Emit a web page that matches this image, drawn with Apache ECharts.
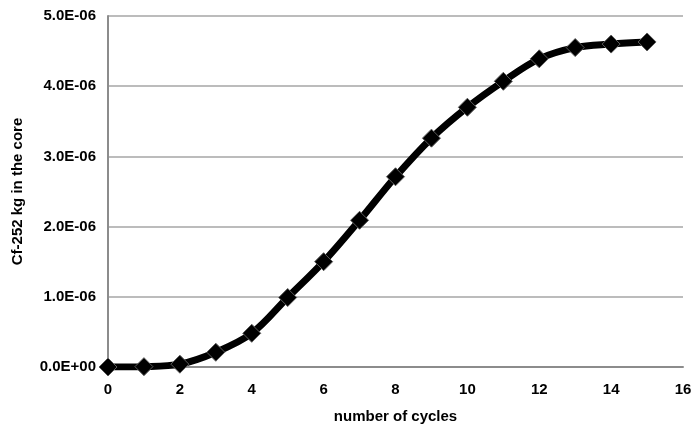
<!DOCTYPE html>
<html>
<head>
<meta charset="utf-8">
<script src="https://cdn.jsdelivr.net/npm/echarts@6/dist/echarts.min.js"></script>
<style>
  html, body { margin: 0; padding: 0; background: #fff; }
  #chart { width: 693px; height: 425px; }
</style>
</head>
<body>
<div id="chart"></div>
<script>
// Cf-252 mass in the core per fuel cycle
const cycles = [0, 1, 2, 3, 4, 5, 6, 7, 8, 9, 10, 11, 12, 13, 14, 15];
const cfMass = [0, 0.005e-6, 0.04e-6, 0.21e-6, 0.48e-6, 0.99e-6, 1.50e-6, 2.09e-6,
                2.71e-6, 3.26e-6, 3.70e-6, 4.07e-6, 4.39e-6, 4.55e-6, 4.60e-6, 4.63e-6];
const xTicks = [0, 2, 4, 6, 8, 10, 12, 14, 16];
const yTicks = [0, 1e-6, 2e-6, 3e-6, 4e-6, 5e-6];

function sci(v) {
  if (Math.abs(v) < 1e-15) return '0.0E+00';
  const exp = Math.floor(Math.log10(Math.abs(v)) + 1e-9);
  const mant = v / Math.pow(10, exp);
  const sign = exp < 0 ? '-' : '+';
  const e = String(Math.abs(exp)).padStart(2, '0');
  return mant.toFixed(1) + 'E' + sign + e;
}

const font = 'Liberation Sans, Arial, sans-serif';
const chart = echarts.init(document.getElementById('chart'), null, { renderer: 'canvas' });
chart.setOption({
  animation: false,
  backgroundColor: '#ffffff',
  grid: { left: 108, right: 10, top: 16, bottom: 58, containLabel: false, outerBoundsMode: 'none' },
  xAxis: {
    type: 'value',
    min: xTicks[0],
    max: xTicks[xTicks.length - 1],
    interval: 2,
    name: 'number of cycles',
    nameLocation: 'middle',
    nameGap: 42,
    nameTextStyle: { fontFamily: font, fontWeight: 'bold', fontSize: 15, color: '#000' },
    axisLine: { show: true, onZero: false, lineStyle: { color: '#8c8c8c', width: 2 } },
    axisTick: { show: false },
    splitLine: { show: false },
    axisLabel: { margin: 15, fontFamily: font, fontWeight: 'bold', fontSize: 15, color: '#000' }
  },
  yAxis: {
    type: 'value',
    min: yTicks[0],
    max: yTicks[yTicks.length - 1],
    interval: 1e-6,
    name: 'Cf-252 kg in the core',
    nameLocation: 'middle',
    nameGap: 83,
    nameRotate: 90,
    nameTextStyle: { fontFamily: font, fontWeight: 'bold', fontSize: 15, color: '#000' },
    axisLine: { show: true, lineStyle: { color: '#8c8c8c', width: 2 } },
    axisTick: { show: false },
    splitLine: { show: true, lineStyle: { color: '#a6a6a6', width: 1.5 } },
    axisLabel: { margin: 12, fontFamily: font, fontWeight: 'bold', fontSize: 15, color: '#000',
                 formatter: sci }
  },
  series: [{
    type: 'line',
    data: cycles.map((c, i) => [c, cfMass[i]]),
    smooth: 0.35,
    symbol: 'diamond',
    symbolSize: 18,
    lineStyle: { color: '#000', width: 7 },
    itemStyle: { color: '#000', borderColor: '#5a5a5a', borderWidth: 1 }
  }]
});
</script>
</body>
</html>
